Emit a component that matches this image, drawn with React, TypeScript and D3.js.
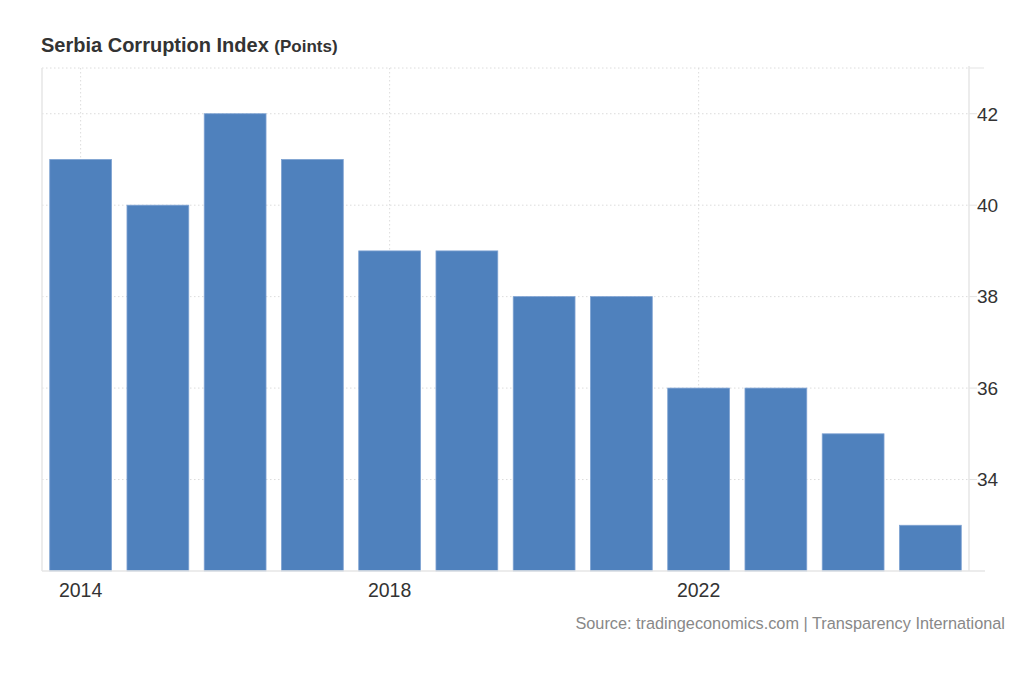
import React from 'react';
import * as d3 from 'd3';

const years = ['2014', '2015', '2016', '2017', '2018', '2019', '2020', '2021', '2022', '2023', '2024', '2025'];
const scores = [41, 40, 42, 41, 39, 39, 38, 38, 36, 36, 35, 33];
const yTicks = [34, 36, 38, 40, 42];
const xLabels = ['2014', '2018', '2022'];

const W = 1023;
const H = 683;
const M = { top: 68, right: 54, bottom: 112, left: 42 };
const FONT = 'Arial, "Liberation Sans", Helvetica, sans-serif';

export default function App() {
  const x = d3.scaleBand<string>()
    .domain(years)
    .range([M.left, W - M.right])
    .paddingInner(0.2)
    .paddingOuter(0.1);
  const y = d3.scaleLinear().domain([32, 43]).range([H - M.bottom, M.top]);

  const x0 = M.left;
  const x1 = W - M.right;
  const yBase = y(32);
  const yTop = y(43);

  return (
    <div style={{ margin: -8 }}>
      <svg width={W} height={H} style={{ display: 'block', fontFamily: FONT }}>
        <rect width={W} height={H} fill="#fff" />

        {/* title */}
        <text x={41} y={52} fill="#333" fontWeight="bold" fontSize={20}>
          Serbia Corruption Index <tspan fontSize={17}>(Points)</tspan>
        </text>

        {/* horizontal dotted grid */}
        {[43, ...yTicks].map(v => (
          <g key={v}>
            <line x1={x0} x2={x1} y1={y(v)} y2={y(v)} stroke="#dcdcdc" strokeDasharray="1.5,2.5" />
            <line x1={x1} x2={v === 43 ? x1 + 15 : x1 + 8} y1={y(v)} y2={y(v)} stroke="#e3e3e3" />
          </g>
        ))}

        {/* vertical dotted grid at labelled years */}
        {xLabels.map(l => {
          const cx = (x(l) ?? 0) + x.bandwidth() / 2;
          return <line key={l} x1={cx} x2={cx} y1={yTop} y2={yBase} stroke="#dcdcdc" strokeDasharray="1.5,2.5" />;
        })}

        {/* bars */}
        {years.map((yr, i) => (
          <rect
            key={yr}
            x={x(yr)}
            y={y(scores[i])}
            width={x.bandwidth()}
            height={yBase - y(scores[i])}
            fill="#4f81bd"
            stroke="#7ea2d2"
            strokeWidth={0.8}
          />
        ))}

        {/* frame lines */}
        <line x1={x0} x2={x0} y1={yTop} y2={yBase} stroke="#e6e6e6" strokeWidth={1.5} />
        <line x1={x1} x2={x1} y1={yTop - 2} y2={yBase} stroke="#e6e6e6" strokeWidth={1.5} />
        <line x1={x0} x2={x1 + 16} y1={yBase} y2={yBase} stroke="#e6e6e6" strokeWidth={1.5} />

        {/* y tick labels */}
        {yTicks.map(v => (
          <text key={v} x={977} y={y(v)} dy="0.36em" fill="#333" fontSize={19}>{v}</text>
        ))}

        {/* x tick labels */}
        {xLabels.map(l => (
          <text key={l} x={(x(l) ?? 0) + x.bandwidth() / 2} y={597} textAnchor="middle" fill="#333" fontSize={19.5}>{l}</text>
        ))}

        {/* source */}
        <text x={1005} y={629} textAnchor="end" fill="#888" fontSize={16.3}>
          Source: tradingeconomics.com | Transparency International
        </text>
      </svg>
    </div>
  );
}
